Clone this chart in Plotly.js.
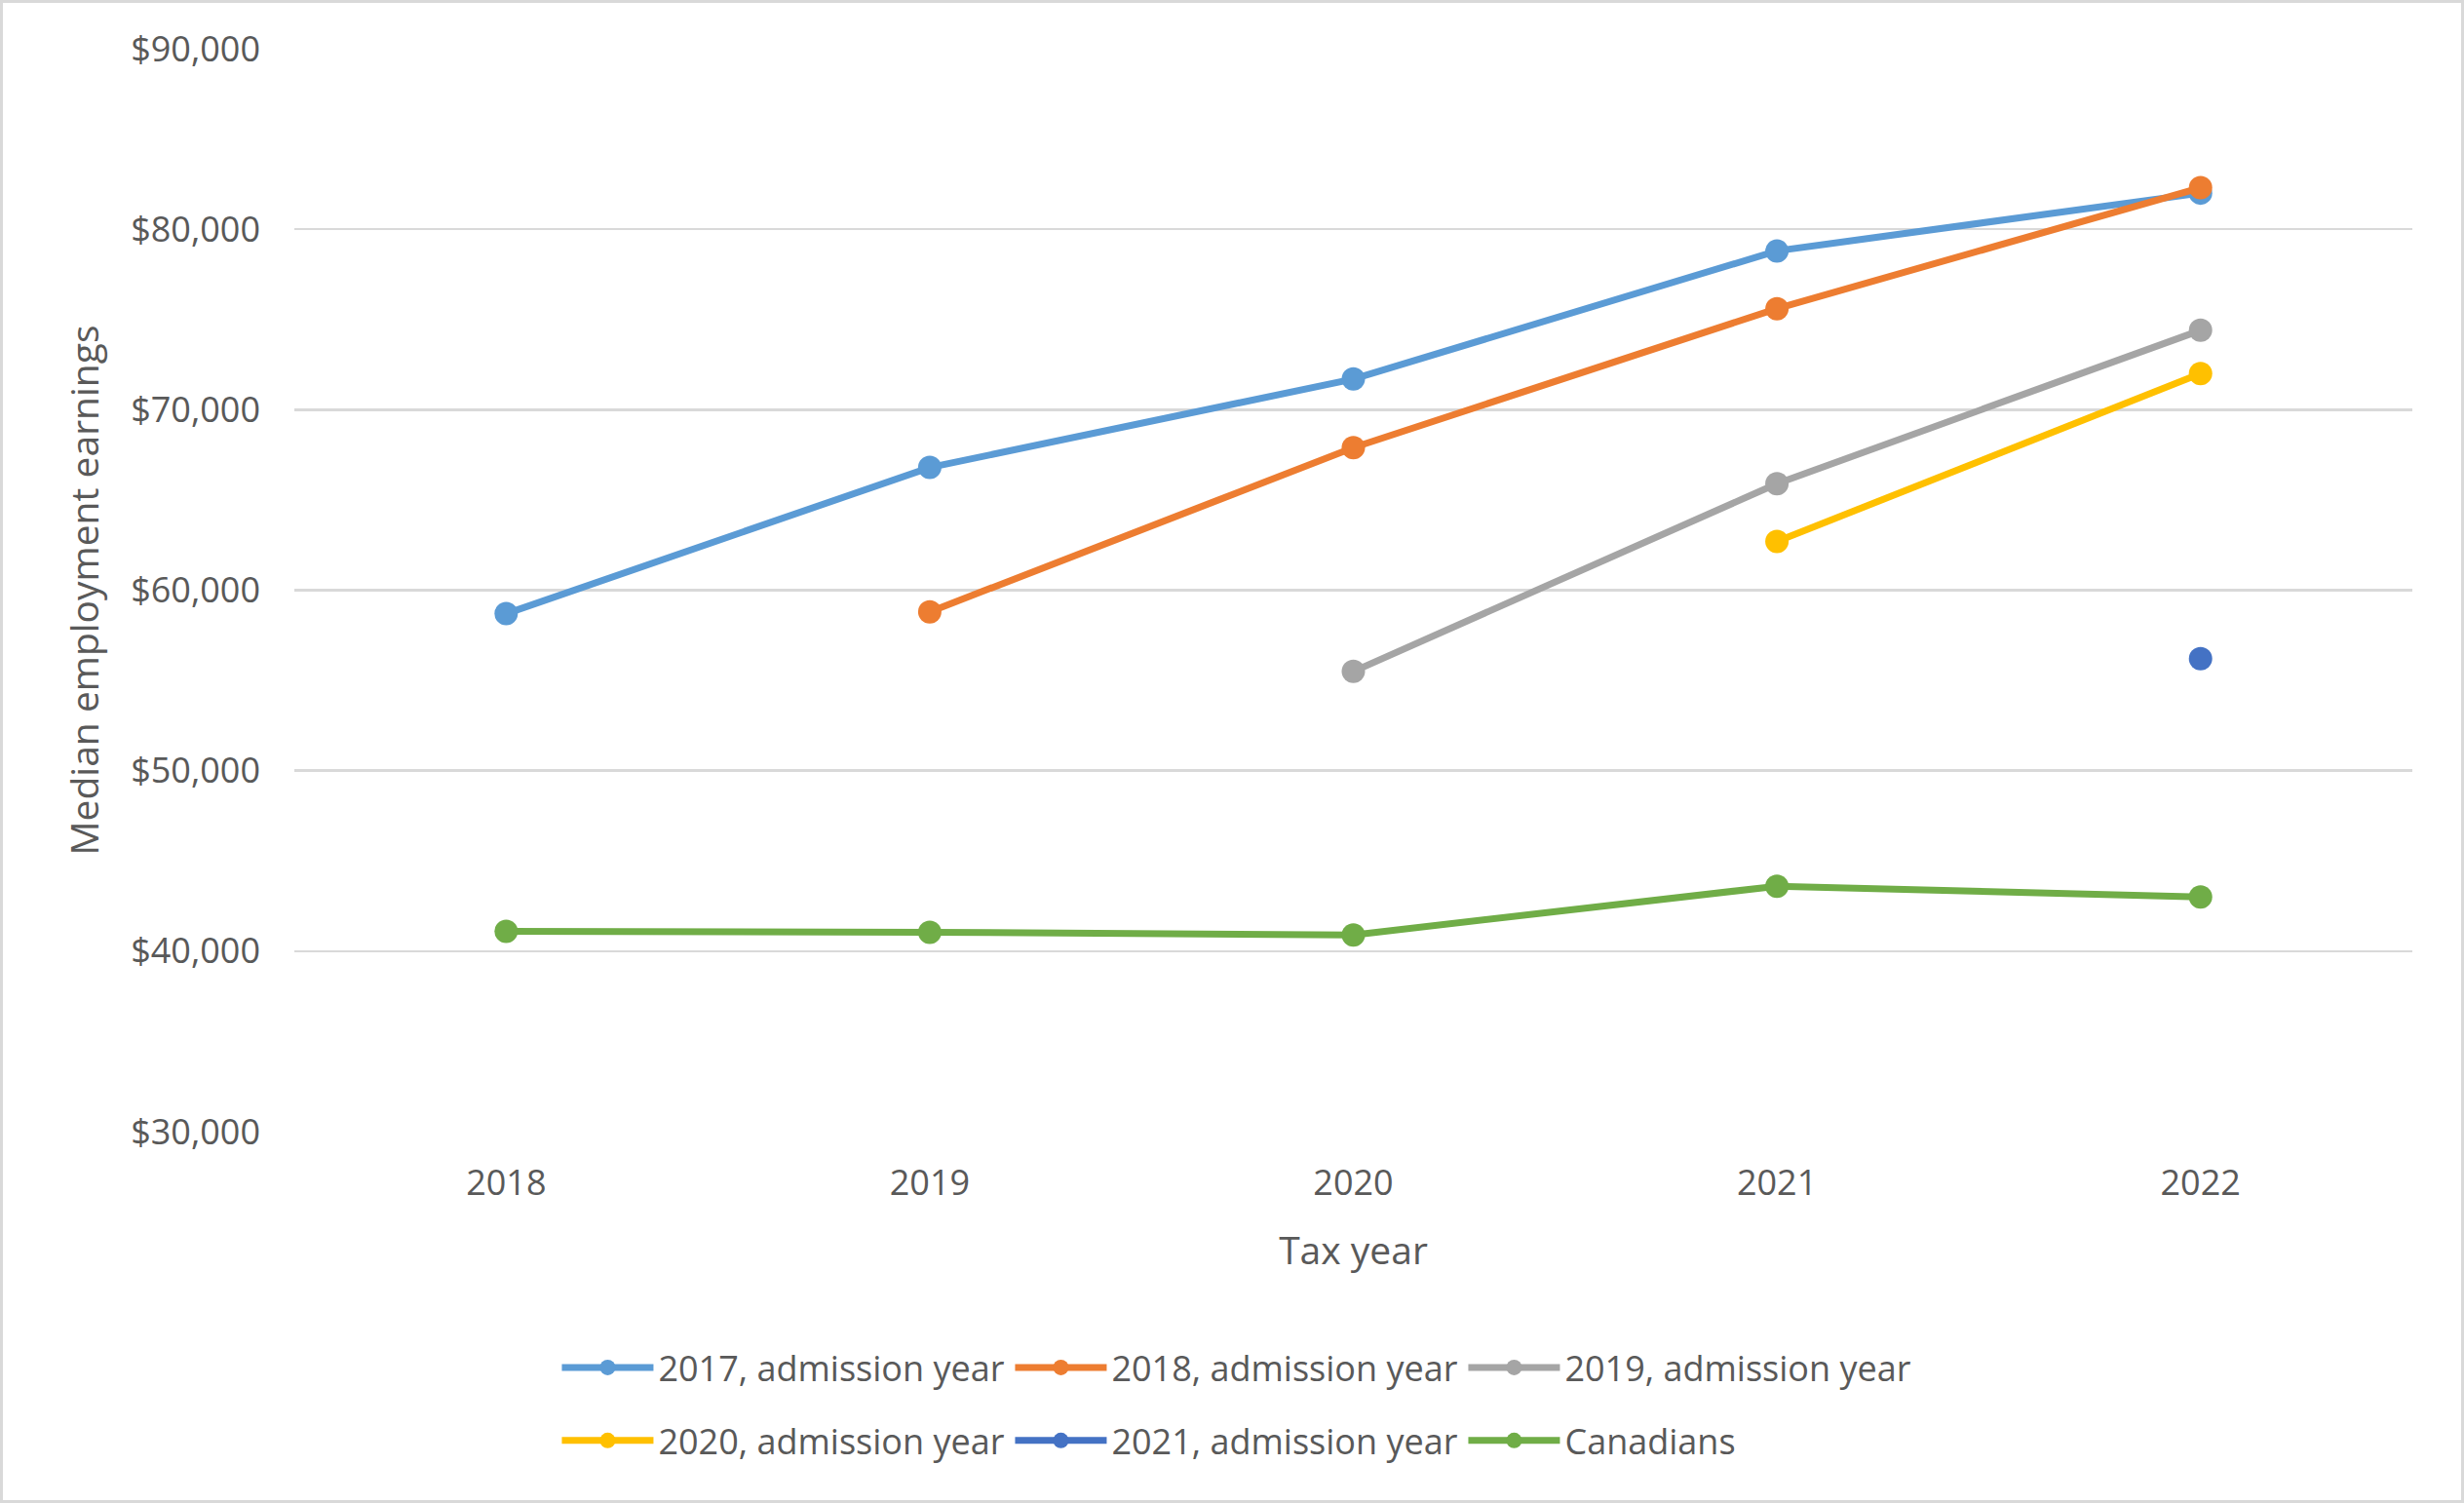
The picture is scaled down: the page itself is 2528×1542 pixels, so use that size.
<!DOCTYPE html>
<html>
<head>
<meta charset="utf-8">
<script src="https://cdn.plot.ly/plotly-3.0.1.min.js"></script>
<style>
  html, body { margin: 0; padding: 0; background: #ffffff; }
  #wrap { position: relative; width: 2528px; height: 1542px; }
  #chart { width: 2528px; height: 1542px; }
  #frame { position: absolute; left: 0; top: 0; width: 2528px; height: 1542px; box-sizing: border-box; border: 3px solid #D9D9D9; pointer-events: none; }
</style>
</head>
<body>
<div id="wrap"><div id="chart"></div><div id="frame"></div></div>
<script>
// Data
const taxYears = ['2018', '2019', '2020', '2021', '2022'];
const seriesNames = ['2017, admission year', '2018, admission year', '2019, admission year',
                     '2020, admission year', '2021, admission year', 'Canadians'];
const admission2017 = [58700, 66800, 71700, 78800, 82000];
const admission2018 = [null, 58800, 67900, 75600, 82300];
const admission2019 = [null, null, 55500, 65900, 74400];
const admission2020 = [null, null, null, 62700, 72000];
const admission2021 = [null, null, null, null, 56200];
const canadians     = [41100, 41050, 40900, 43600, 43000];
const yTickValues = [30000, 40000, 50000, 60000, 70000, 80000, 90000];
const yTickLabels = ['$30,000', '$40,000', '$50,000', '$60,000', '$70,000', '$80,000', '$90,000'];

const colors = ['#5B9BD5', '#ED7D31', '#A5A5A5', '#FFC000', '#4472C4', '#70AD47'];
const allSeries = [admission2017, admission2018, admission2019, admission2020, admission2021, canadians];

const traces = allSeries.map((vals, i) => ({
  type: 'scatter',
  mode: 'lines+markers',
  x: taxYears,
  y: vals,
  name: seriesNames[i],
  legend: i < 3 ? 'legend' : 'legend2',
  line: { color: colors[i], width: 7 },
  marker: { color: colors[i], size: 24, symbol: 'circle' },
  connectgaps: false,
  hoverinfo: 'skip'
}));

const textColor = '#595959';
const fontFam = '"Open Sans", "Noto Sans", sans-serif';

const legendCommon = {
  orientation: 'h',
  xref: 'paper',
  x: 0.124,
  xanchor: 'left',
  yanchor: 'middle',
  font: { family: fontFam, size: 36, color: textColor },
  itemwidth: 94,
  entrywidth: 356,
  entrywidthmode: 'pixels',
  bgcolor: 'rgba(0,0,0,0)',
  borderwidth: 0,
  traceorder: 'normal'
};

const layout = {
  width: 2528,
  height: 1542,
  paper_bgcolor: '#ffffff',
  plot_bgcolor: '#ffffff',
  margin: { l: 302, r: 53, t: 50, b: 381, pad: 0, autoexpand: false },
  showlegend: true,
  legend: Object.assign({}, legendCommon, { y: -0.2178 }),
  legend2: Object.assign({}, legendCommon, { y: -0.2853 }),
  xaxis: {
    type: 'category',
    range: [-0.5, 4.5],
    showgrid: false,
    zeroline: false,
    showline: false,
    ticks: '',
    automargin: false,
    ticklabelstandoff: 28,
    tickfont: { family: fontFam, size: 36, color: textColor },
    title: { text: 'Tax year', font: { family: fontFam, size: 39, color: textColor }, standoff: 33 },
    fixedrange: true
  },
  yaxis: {
    range: [30000, 90000],
    tickvals: yTickValues,
    ticktext: yTickLabels,
    showgrid: true,
    gridcolor: '#D9D9D9',
    gridwidth: 2.5,
    zeroline: false,
    showline: false,
    ticks: '',
    automargin: false,
    ticklabelstandoff: 34,
    tickfont: { family: fontFam, size: 36, color: textColor },
    title: { text: 'Median employment earnings', font: { family: fontFam, size: 39, color: textColor }, standoff: 20 },
    fixedrange: true
  }
};

Plotly.newPlot('chart', traces, layout, { staticPlot: true, displayModeBar: false });
</script>
</body>
</html>
